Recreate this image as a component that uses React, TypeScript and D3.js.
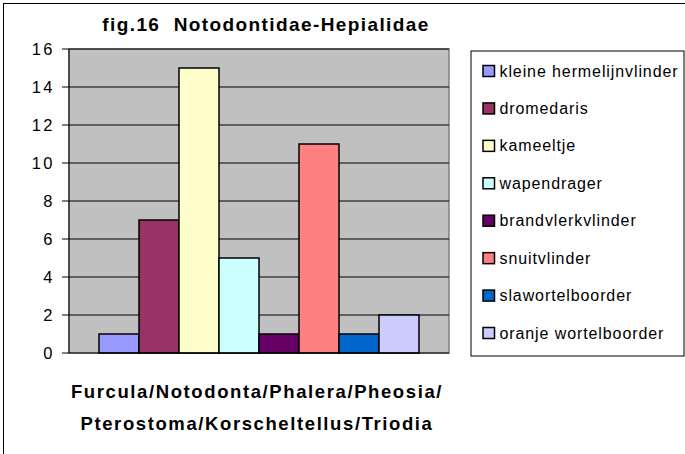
import React from 'react';
import * as d3 from 'd3';

const series = [
  'kleine hermelijnvlinder',
  'dromedaris',
  'kameeltje',
  'wapendrager',
  'brandvlerkvlinder',
  'snuitvlinder',
  'slawortelboorder',
  'oranje wortelboorder',
];
const values = [1, 7, 15, 5, 1, 11, 1, 2];
const colors = ['#9999FF', '#993366', '#FFFFCC', '#CCFFFF', '#660066', '#FF8080', '#0066CC', '#CCCCFF'];
const yTicks = [0, 2, 4, 6, 8, 10, 12, 14, 16];
const title = 'fig.16  Notodontidae-Hepialidae';
const xTitle = ['Furcula/Notodonta/Phalera/Pheosia/', 'Pterostoma/Korscheltellus/Triodia'];

const W = 685;
const H = 454;
const font = '"Liberation Sans", Arial, sans-serif';

export default function App() {
  const plot = { left: 69, right: 449, top: 49, bottom: 353 };
  const y = d3.scaleLinear().domain([0, 16]).range([plot.bottom, plot.top]);
  const barW = (plot.right - plot.left) / 9.5;
  const gap = barW * 0.75;
  const x = d3.scaleBand<string>()
    .domain(series)
    .range([plot.left + gap, plot.right - gap])
    .padding(0);

  const legend = { x: 471, y: 51, w: 213, h: 305 };
  const legendY = d3.scalePoint<string>()
    .domain(series)
    .range([71, 333]);

  return (
    <svg width={W} height={H} style={{ position: 'absolute', left: 0, top: 0, background: '#fff' }}
      fontFamily={font}>
      <rect x={3.5} y={3.5} width={W + 10} height={H + 10} fill="#fff" stroke="#000" strokeWidth={1} />
      <text x={266} y={31} textAnchor="middle" fontSize={19} fontWeight="bold"
        letterSpacing={1.4} style={{ whiteSpace: 'pre' }}>{title}</text>

      <rect x={plot.left} y={plot.top} width={plot.right - plot.left} height={plot.bottom - plot.top}
        fill="#C0C0C0" stroke="#808080" strokeWidth={1.5} />
      {yTicks.filter(t => t > 0).map(t => (
        <line key={t} x1={plot.left} x2={plot.right} y1={y(t)} y2={y(t)} stroke="#000" strokeWidth={1} />
      ))}

      {series.map((s, i) => (
        <rect key={s} x={x(s)} y={y(values[i])} width={x.bandwidth()} height={y(0) - y(values[i])}
          fill={colors[i]} stroke="#000" strokeWidth={1.5} />
      ))}

      <line x1={plot.left} x2={plot.left} y1={plot.top} y2={plot.bottom} stroke="#000" strokeWidth={1} />
      <line x1={plot.left} x2={plot.right} y1={plot.bottom} y2={plot.bottom} stroke="#000" strokeWidth={1} />
      {yTicks.map(t => (
        <g key={t}>
          <line x1={plot.left - 7} x2={plot.left} y1={y(t)} y2={y(t)} stroke="#000" strokeWidth={1} />
          <text x={55} y={y(t)} dy="0.36em" textAnchor="end" fontSize={16.5} letterSpacing={2.5}>{t}</text>
        </g>
      ))}

      {xTitle.map((line, i) => (
        <text key={i} x={257} y={398 + i * 32} textAnchor="middle" fontSize={18.5} fontWeight="bold"
          letterSpacing={1.6}>{line}</text>
      ))}

      <rect x={legend.x} y={legend.y} width={legend.w} height={legend.h} fill="#fff" stroke="#000" strokeWidth={1} />
      {series.map((s, i) => (
        <g key={s} transform={`translate(0,${legendY(s)})`}>
          <rect x={483} y={-5.5} width={11.5} height={11} fill={colors[i]} stroke="#000" strokeWidth={1.5} />
          <text x={499.5} y={5.5} fontSize={16} letterSpacing={0.9}>{s}</text>
        </g>
      ))}
    </svg>
  );
}
